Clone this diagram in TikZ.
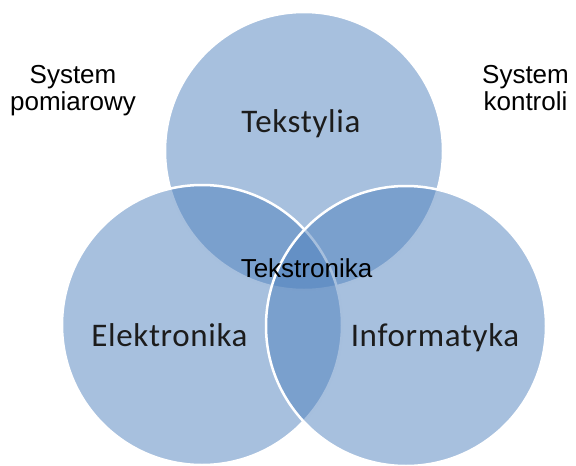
\documentclass[tikz,border=0pt]{standalone}
\usepackage{fontspec}
\setmainfont{Liberation Sans}
\newfontfamily\areafont[LetterSpace=2]{Carlito}
\definecolor{vennblue}{RGB}{79,129,189}
\definecolor{areatext}{RGB}{28,28,28}
\begin{document}
\begin{tikzpicture}[x=1pt,y=-1pt,
  venn/.style={circle, fill=vennblue, fill opacity=0.5, draw=white, line width=2.5pt},
  arealabel/.style={font=\areafont\fontsize{33}{36}\selectfont, text=areatext, anchor=base, inner sep=0pt},
  sidelabel/.style={font=\fontsize{26}{27}\selectfont, align=center, anchor=base, inner sep=0pt},
  corelabel/.style={font=\fontsize{26}{27}\selectfont, anchor=base, inner sep=0pt}]
  \useasboundingbox (0,0) rectangle (576,466);
  % three overlapping fields, drawn top, left, right
  \filldraw[venn] (304,151) circle[radius=139];
  \filldraw[venn] (202,325) circle[radius=140];
  \filldraw[venn] (406,326) circle[radius=140];
  % field names
  \node[arealabel] (tex) at (301,132) {Tekstylia};
  \node[arealabel] (ele) at (169.5,346) {Elektronika};
  \node[arealabel] (inf) at (435,346) {Informatyka};
  % common part
  \node[corelabel] (core) at (306.5,277) {Tekstronika};
  % side notes (base anchor sits on the last line)
  \node[sidelabel] (meas) at (73,110.5) {System\\pomiarowy};
  \node[sidelabel] (ctrl) at (525.5,110.5) {System\\kontroli};
\end{tikzpicture}
\end{document}
